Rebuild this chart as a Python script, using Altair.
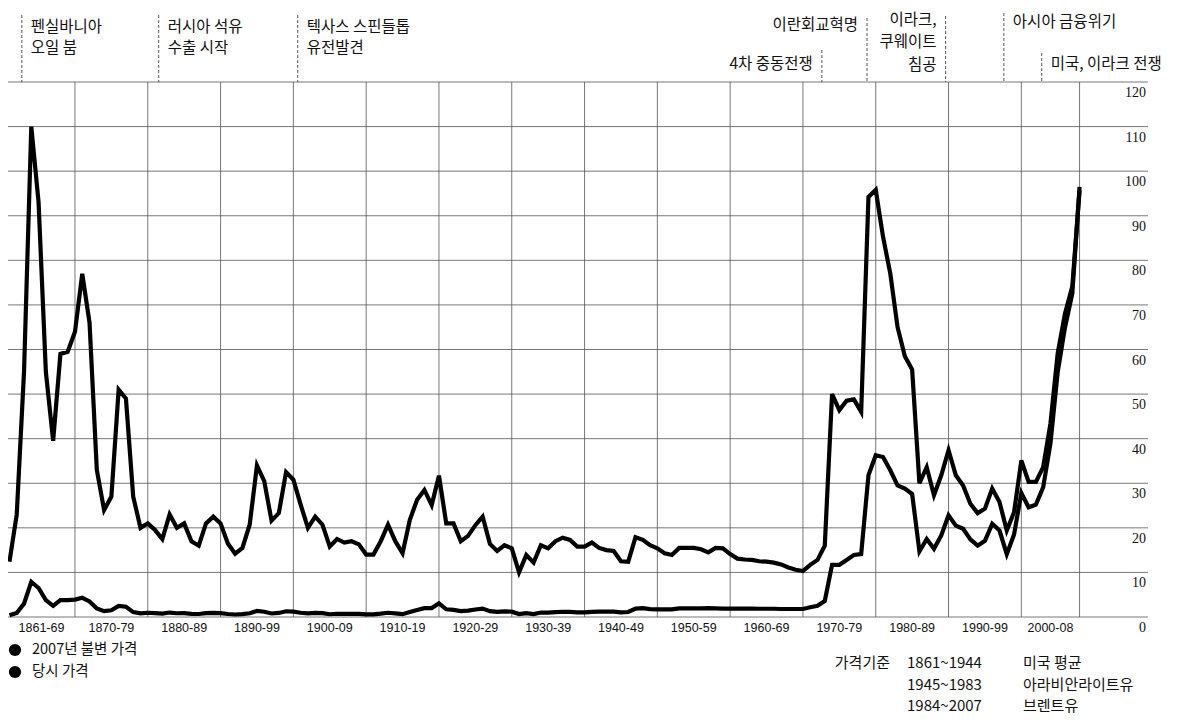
import altair as alt
import pandas as pd

# ---------------- data ----------------
years = list(range(1861, 2009))

real_2007 = [
    12.4, 23.0, 55.0, 110.0, 93.0, 55.0, 39.5, 59.0, 59.5,                  # 1861-69
    64.0, 77.0, 66.0, 33.0, 24.0, 27.0, 51.0, 49.0, 27.0, 20.0,             # 1870-79
    21.0, 19.5, 17.5, 23.0, 20.0, 21.0, 17.0, 16.0, 21.0, 22.5,             # 1880-89
    21.0, 16.5, 14.2, 15.5, 20.7, 34.0, 30.5, 21.6, 23.3, 32.5,             # 1890-99
    30.8, 25.2, 20.0, 22.5, 20.7, 15.8, 17.5, 16.7, 17.0, 16.3,             # 1900-09
    14.0, 14.0, 17.0, 20.7, 17.0, 14.3, 21.8, 26.3, 28.5, 25.1,             # 1910-19
    31.7, 21.0, 21.0, 17.0, 18.2, 20.6, 22.5, 16.4, 14.8, 16.1,             # 1920-29
    15.4, 10.0, 13.9, 12.2, 16.1, 15.4, 17.0, 17.8, 17.3, 15.8,             # 1930-39
    15.8, 16.7, 15.5, 15.0, 14.8, 12.5, 12.4, 17.9, 17.3, 16.1,             # 1940-49
    15.4, 14.3, 13.9, 15.5, 15.5, 15.5, 15.2, 14.5, 15.5, 15.4,             # 1950-59
    14.1, 13.1, 12.9, 12.8, 12.5, 12.4, 12.2, 11.8, 11.1, 10.6,             # 1960-69
    10.3, 11.7, 12.8, 16.0, 50.0, 46.4, 48.5, 48.8, 46.0, 94.2,             # 1970-79
    95.8, 85.3, 77.0, 65.0, 58.5, 55.5, 30.0, 33.6, 27.3, 31.8,             # 1980-89
    37.4, 31.8, 29.5, 25.4, 23.3, 24.3, 28.8, 25.8, 19.4, 23.5,             # 1990-99
    35.1, 30.3, 30.3, 33.6, 43.4, 59.2, 68.1, 74.1, 95.7,                   # 2000-08
]

nominal = [
    0.4, 0.9, 3.0, 7.9, 6.5, 3.8, 2.5, 3.8, 3.8,                            # 1861-69
    3.9, 4.3, 3.5, 1.9, 1.3, 1.5, 2.5, 2.3, 1.1, 0.8,                       # 1870-79
    0.95, 0.86, 0.78, 1.0, 0.84, 0.88, 0.71, 0.67, 0.88, 0.94,              # 1880-89
    0.87, 0.67, 0.56, 0.64, 0.84, 1.36, 1.18, 0.79, 0.91, 1.29,             # 1890-99
    1.19, 0.96, 0.8, 0.94, 0.86, 0.62, 0.73, 0.72, 0.72, 0.7,               # 1900-09
    0.61, 0.61, 0.74, 0.95, 0.81, 0.64, 1.1, 1.56, 1.98, 2.01,              # 1910-19
    3.07, 1.73, 1.61, 1.34, 1.43, 1.68, 1.88, 1.3, 1.17, 1.27,              # 1920-29
    1.19, 0.65, 0.87, 0.67, 1.0, 0.97, 1.09, 1.18, 1.13, 1.02,              # 1930-39
    1.02, 1.14, 1.19, 1.2, 1.21, 1.05, 1.12, 1.9, 1.99, 1.78,               # 1940-49
    1.71, 1.71, 1.71, 1.93, 1.93, 1.93, 1.93, 2.0, 1.95, 1.9,               # 1950-59
    1.9, 1.9, 1.9, 1.9, 1.85, 1.85, 1.85, 1.8, 1.8, 1.8,                    # 1960-69
    1.8, 2.2, 2.5, 3.6, 11.7, 11.7, 12.8, 13.9, 14.1, 31.8,                 # 1970-79
    36.3, 35.9, 32.9, 29.5, 28.8, 27.6, 14.7, 17.5, 15.3, 18.3,             # 1980-89
    22.8, 20.5, 19.8, 17.4, 16.0, 17.1, 20.9, 19.4, 14.1, 18.5,             # 1990-99
    27.8, 24.6, 25.2, 29.1, 38.9, 55.0, 65.0, 72.5, 96.5,                   # 2000-08
]

series_names = ["2007년 불변 가격", "당시 가격"]

y_ticks = list(range(0, 130, 10))
decade_bounds = [1870, 1880, 1890, 1900, 1910, 1920, 1930, 1940, 1950,
                 1960, 1970, 1980, 1990, 2000, 2008]
decade_labels = ["1861-69", "1870-79", "1880-89", "1890-99", "1900-09",
                 "1910-19", "1920-29", "1930-39", "1940-49", "1950-59",
                 "1960-69", "1970-79", "1980-89", "1990-99", "2000-08"]
decade_centers = [1865.4, 1875, 1885, 1895, 1905, 1915, 1925, 1935, 1945,
                  1955, 1965, 1975, 1985, 1995, 2004]

event_years = [1862.7, 1881.5, 1900.6, 1972.6, 1978.8, 1989.6, 1997.6, 2002.8]
event_texts = [["펜실바니아", "오일 붐"], ["러시아 석유", "수출 시작"],
               ["텍사스 스핀들톱", "유전발견"], ["4차 중동전쟁"], ["이란회교혁명"],
               ["이라크,", "쿠웨이트", "침공"], ["아시아 금융위기"], ["미국, 이라크 전쟁"]]
event_side = ["right", "right", "right", "left", "left", "left", "right", "right"]
event_line_top = [15, 15, 15, 50, 18, 16, 13, 53]      # page y of dashed line top
event_text_y = [27, 27, 27, 64, 25, 19.5, 22, 64]      # page y of first text row
event_text_gap = [21, 21, 21, 0, 0, 22.5, 0, 0]

note_title = "가격기준"
note_periods = ["1861~1944", "1945~1983", "1984~2007"]
note_sources = ["미국 평균", "아라비안라이트유", "브렌트유"]

# ---------------- layout ----------------
W, H = 1140, 535
TOP = 74          # space above the plot (view top sits at page y 82)
FONT = "Noto Sans CJK KR"
GRID = "#555555"
INK = "#111111"

xs = alt.Scale(domain=[1860.8, 2017.4], nice=False, zero=False)
ys = alt.Scale(domain=[0, 120], nice=False, zero=False)


def py(page_y):
    return page_y - 8 - TOP


price_df = pd.DataFrame({
    "year": years * 2,
    "price": real_2007 + nominal,
    "series": [series_names[0]] * len(years) + [series_names[1]] * len(years),
})

layers = []

layers.append(
    alt.Chart(pd.DataFrame({"v": y_ticks}))
    .mark_rule(color=GRID, strokeWidth=0.8)
    .encode(y=alt.Y("v:Q", scale=ys, axis=None), x=alt.value(0), x2=alt.value(W))
)
layers.append(
    alt.Chart(pd.DataFrame({"yr": decade_bounds}))
    .mark_rule(color=GRID, strokeWidth=0.8)
    .encode(x=alt.X("yr:Q", scale=xs, axis=None), y=alt.value(0), y2=alt.value(H))
)
layers.append(
    alt.Chart(price_df)
    .mark_line(color="black", strokeWidth=4.2, strokeJoin="miter")
    .encode(
        x=alt.X("year:Q", scale=xs, axis=None),
        y=alt.Y("price:Q", scale=ys, axis=None),
        detail="series:N",
    )
)
layers.append(
    alt.Chart(pd.DataFrame({"v": y_ticks}))
    .mark_text(align="right", baseline="top", dy=4, font="Liberation Sans Narrow",
               fontSize=14, color=INK)
    .encode(y=alt.Y("v:Q", scale=ys, axis=None), x=alt.value(W - 2), text="v:Q")
)
layers.append(
    alt.Chart(pd.DataFrame({"c": decade_centers, "t": decade_labels}))
    .mark_text(baseline="middle", font="Liberation Sans", fontSize=12.5, color=INK)
    .encode(x=alt.X("c:Q", scale=xs, axis=None), y=alt.value(py(628)), text="t:N")
)

# event markers
for yr, rows, side, top, ty, gap in zip(event_years, event_texts, event_side,
                                         event_line_top, event_text_y, event_text_gap):
    d = pd.DataFrame({"yr": [yr]})
    layers.append(
        alt.Chart(d)
        .mark_rule(color="#444444", strokeWidth=0.9, strokeDash=[3, 2])
        .encode(x=alt.X("yr:Q", scale=xs, axis=None),
                y=alt.value(py(top)), y2=alt.value(0))
    )
    for i, t in enumerate(rows):
        dd = pd.DataFrame({"yr": [yr], "t": [t]})
        layers.append(
            alt.Chart(dd)
            .mark_text(align="left" if side == "right" else "right",
                       dx=9 if side == "right" else -9,
                       baseline="middle", font=FONT, fontSize=15.5, color=INK)
            .encode(x=alt.X("yr:Q", scale=xs, axis=None),
                    y=alt.value(py(ty + i * gap)), text="t:N")
        )

# legend
for i, name in enumerate(series_names):
    d = pd.DataFrame({"t": [name]})
    layers.append(
        alt.Chart(d).mark_circle(size=150, color="black", opacity=1)
        .encode(x=alt.value(7), y=alt.value(py(650 + 22 * i)))
    )
    layers.append(
        alt.Chart(d).mark_text(align="left", baseline="middle", font=FONT,
                               fontSize=14.5, color=INK)
        .encode(x=alt.value(24), y=alt.value(py(650 + 22 * i)), text="t:N")
    )

# price basis note
layers.append(
    alt.Chart(pd.DataFrame({"t": [note_title]}))
    .mark_text(align="right", baseline="middle", font=FONT, fontSize=15, color=INK)
    .encode(x=alt.value(882), y=alt.value(py(663)), text="t:N")
)
for i, (p, s) in enumerate(zip(note_periods, note_sources)):
    d = pd.DataFrame({"p": [p], "s": [s]})
    layers.append(
        alt.Chart(d).mark_text(align="left", baseline="middle", font=FONT,
                               fontSize=15, color=INK)
        .encode(x=alt.value(899), y=alt.value(py(663 + 21.5 * i)), text="p:N")
    )
    layers.append(
        alt.Chart(d).mark_text(align="left", baseline="middle", font=FONT,
                               fontSize=15, color=INK)
        .encode(x=alt.value(1015), y=alt.value(py(663 + 21.5 * i)), text="s:N")
    )

chart = (
    alt.layer(*layers)
    .properties(
        width=W,
        height=H,
        autosize=alt.AutoSizeParams(type="none"),
        padding={"top": TOP, "left": 0, "right": 30, "bottom": 100},
    )
    .configure_view(stroke=None)
)

chart.save("out.html", embed_options={"renderer": "svg", "actions": False})
